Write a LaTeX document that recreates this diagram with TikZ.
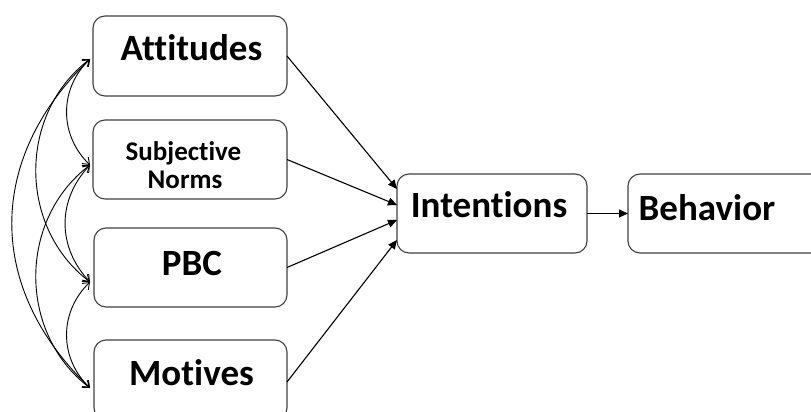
\documentclass[tikz,border=0pt]{standalone}
\usepackage{fontspec}
\setmainfont{Carlito}[Ligatures={NoCommon,NoRequired,NoContextual}]
\usetikzlibrary{arrows.meta}
\begin{document}
\begin{tikzpicture}[x=1pt,y=-1pt,
  box/.style={draw=black!75, line width=1.1pt, rounded corners=12pt, inner sep=0pt, outer sep=0pt},
  big/.style={anchor=base, inner sep=0pt, font=\fontsize{37}{40}\selectfont\bfseries},
  small/.style={anchor=base, inner sep=0pt, font=\fontsize{27}{30}\selectfont\bfseries},
  arr/.style={line width=1.1pt, -{Triangle[length=9pt,width=8pt]}},
  cor/.style={line width=0.9pt, {Straight Barb[length=6pt,width=9pt]}-{Straight Barb[length=6pt,width=9pt]}}]
\clip (0,0) rectangle (811,412);
% boxes
\node[box, minimum width=194pt, minimum height=80pt] (att) at (190,56) {};
\node[box, minimum width=194pt, minimum height=79pt] (sn) at (190,159.5) {};
\node[box, minimum width=193pt, minimum height=79pt] (pbc) at (190.5,267.5) {};
\node[box, minimum width=193pt, minimum height=80pt] (mot) at (190.5,380) {};
\node[box, minimum width=190pt, minimum height=79pt] (int) at (492,213.5) {};
\node[box, minimum width=202pt, minimum height=79pt] (beh) at (729,213.5) {};
% texts
\node[big] (attT) at (191.5,61) {Attitudes};
\node[small] (snT1) at (183.5,160) {Subjective};
\node[small] (snT2) at (185,188) {Norms};
\node[big] (pbcT) at (192,275) {PBC};
\node[big] (motT) at (191.5,385) {Motives};
\node[big] (intT) at (489,217) {Intentions};
\node[big] (behT) at (707,220) {Behavior};
% straight arrows
\draw[arr] (att.east) -- ([yshift=24.5pt]int.west);
\draw[arr] (sn.east) -- ([yshift=8.5pt]int.west);
\draw[arr] (pbc.east) -- ([yshift=-6.5pt]int.west);
\draw[arr] ([yshift=-2pt]mot.east) -- ([yshift=-26.5pt]int.west);
\draw[arr] (int.east) -- (beh.west);
% left correlation arcs
\coordinate (aL) at ([xshift=-3pt,yshift=-3pt]att.west);
\coordinate (sL) at ([xshift=-3pt,yshift=-5.5pt]sn.west);
\coordinate (pL) at ([xshift=-4pt,yshift=-14.5pt]pbc.west);
\coordinate (mL) at ([xshift=-4pt,yshift=-8pt]mot.west);
\draw[cor] (aL) .. controls +(-31,30) and +(-31,-30) .. (sL);
\draw[cor] (sL) .. controls +(-33,35) and +(-33,-35) .. (pL);
\draw[cor] (pL) .. controls +(-31,30) and +(-31,-30) .. (mL);
\draw[cor] (aL) .. controls +(-72,55) and +(-72,-55) .. (pL);
\draw[cor] (sL) .. controls +(-72,55) and +(-72,-55) .. (mL);
\draw[cor] (aL) .. controls +(-104,100) and +(-104,-100) .. (mL);
\end{tikzpicture}
\end{document}
